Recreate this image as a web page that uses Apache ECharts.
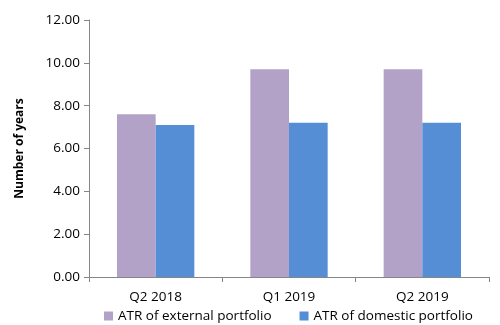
<!DOCTYPE html>
<html>
<head>
<meta charset="utf-8">
<script src="https://cdn.jsdelivr.net/npm/echarts@6/dist/echarts.min.js"></script>
<style>
  * { margin: 0; padding: 0; }
  body { background: #fff; }
</style>
</head>
<body>
<div id="main" style="width: 500px; height: 325px;"></div>
<script>
  // data
  var categories = ['Q2 2018', 'Q1 2019', 'Q2 2019'];
  var externalPortfolio = [7.6, 9.7, 9.7];
  var domesticPortfolio = [7.1, 7.2, 7.2];
  var seriesNames = ['ATR of external portfolio', 'ATR of domestic portfolio'];

  var font = 'Open Sans';
  var chart = echarts.init(document.getElementById('main'));
  chart.setOption({
    animation: false,
    color: ['#B3A2C7', '#558ED5'],
    grid: { left: 89, top: 20, right: 11, bottom: 48 },
    legend: {
      top: 308,
      left: 104,
      padding: 0,
      itemWidth: 9,
      itemHeight: 9,
      itemGap: 28,
      icon: 'rect',
      textStyle: { fontFamily: font, fontSize: 13.5, color: '#000', lineHeight: 16 },
      data: seriesNames
    },
    xAxis: {
      type: 'category',
      data: categories,
      axisLine: { lineStyle: { color: '#868686' } },
      axisTick: { show: true, length: 5, lineStyle: { color: '#868686' } },
      axisLabel: { fontFamily: font, fontSize: 13.5, color: '#000', margin: 13 }
    },
    yAxis: {
      type: 'value',
      min: 0,
      max: 12,
      interval: 2,
      name: 'Number of years',
      nameLocation: 'middle',
      nameGap: 63,
      nameTextStyle: { fontFamily: font, fontSize: 12, fontWeight: 'bold', color: '#000' },
      splitLine: { show: false },
      axisLine: { show: true, lineStyle: { color: '#868686' } },
      axisTick: { show: true, length: 5, lineStyle: { color: '#868686' } },
      axisLabel: {
        fontFamily: font, fontSize: 13.5, color: '#000', margin: 9,
        formatter: function (v) { return v.toFixed(2); }
      }
    },
    series: [
      {
        name: seriesNames[0],
        type: 'bar',
        data: externalPortfolio,
        barGap: '0%',
        barCategoryGap: '42%'
      },
      {
        name: seriesNames[1],
        type: 'bar',
        data: domesticPortfolio
      }
    ]
  });
</script>
</body>
</html>
